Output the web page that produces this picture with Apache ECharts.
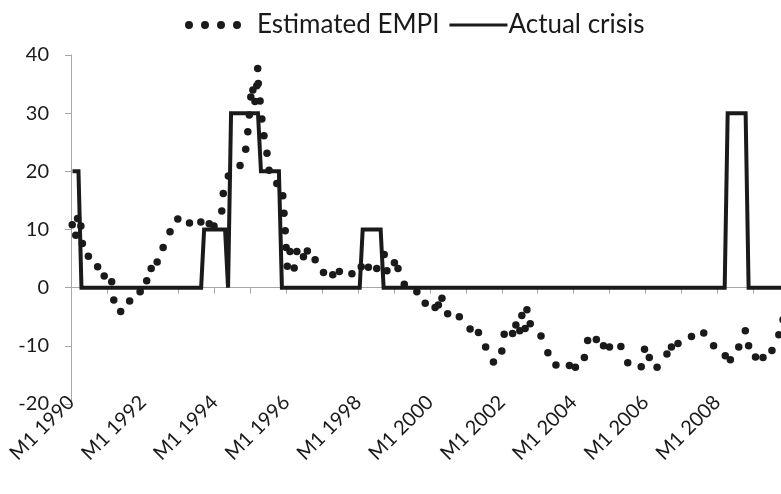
<!DOCTYPE html>
<html>
<head>
<meta charset="utf-8">
<script src="https://cdn.jsdelivr.net/npm/echarts@6/dist/echarts.min.js"></script>
<style>
  html, body { margin: 0; padding: 0; background: #ffffff; }
  #chart { width: 781px; height: 494px; }
</style>
</head>
<body>
<div id="chart"></div>
<script>
// Months are counted from the start of January 1990 (0 = M1 1990, 12 = M1 1991, ...).
const startYear = 1990;
const labelYears = [1990, 1992, 1994, 1996, 1998, 2000, 2002, 2004, 2006, 2008];

// Estimated exchange market pressure index
const empiMonth = [
  0.4, 1.6, 2.2, 3.3, 3.8, 5.8, 8.9, 11.1, 13.6, 14.3,
  16.6, 19.6, 23.1, 25.3, 26.8, 28.8, 30.8, 33.1, 35.7, 39.6,
  43.4, 46.2, 47.8, 50.4, 50.9, 52.6, 56.5, 58.4, 59.1, 59.6,
  60.1, 60.8, 61.5, 62.1, 62.4, 62.6, 63.2, 63.8, 64.5, 65.5,
  66.2, 68.8, 70.8, 71.2, 71.6, 71.9, 72.3, 73.2, 74.6, 75.5,
  77.7, 79.0, 81.6, 84.4, 87.5, 89.7, 93.9, 97.0, 99.4, 102.2,
  104.7, 105.6, 108.1, 109.3, 111.4, 115.6, 118.4, 121.7, 122.8, 124.0,
  125.9, 129.8, 133.4, 136.2, 138.6, 141.2, 144.0, 144.8, 147.6, 148.7,
  150.0, 150.7, 151.8, 152.4, 153.5, 157.1, 159.4, 162.1, 166.6, 168.6,
  171.6, 172.7, 175.6, 178.0, 180.0, 183.8, 186.1, 190.6, 191.7, 193.3,
  195.9, 199.2, 200.7, 202.9, 207.4, 211.5, 214.8, 218.7, 220.4, 223.2,
  225.4, 226.5, 228.8, 231.3, 234.3, 236.6, 238.0
];
const empiValue = [
  10.8, 9.0, 11.9, 10.6, 7.6, 5.4, 3.6, 2.0, 1.0, -2.1,
  -4.1, -2.3, -0.7, 1.2, 3.3, 4.4, 6.9, 9.6, 11.8, 11.1,
  11.3, 11.0, 10.6, 13.2, 16.2, 19.2, 21.0, 23.8, 26.8, 29.7,
  32.8, 34.0, 32.0, 34.7, 37.7, 35.1, 32.1, 29.0, 26.1, 23.1,
  20.2, 17.9, 15.8, 12.8, 9.8, 6.9, 3.7, 6.2, 3.4, 6.2,
  5.3, 6.3, 4.8, 2.6, 2.2, 2.8, 2.4, 3.6, 3.5, 3.3,
  5.7, 2.9, 4.3, 3.3, 0.6, -0.7, -2.7, -3.4, -3.0, -1.8,
  -4.5, -5.0, -7.1, -7.7, -10.2, -12.8, -10.9, -8.0, -7.9, -6.4,
  -7.4, -4.8, -7.0, -3.8, -6.2, -8.3, -11.2, -13.3, -13.4, -13.7,
  -12.0, -9.1, -8.9, -10.0, -10.2, -10.1, -12.9, -13.6, -10.6, -12.0,
  -13.7, -11.4, -10.2, -9.6, -8.4, -7.8, -10.0, -11.7, -12.4, -10.2,
  -7.4, -10.0, -11.9, -12.0, -10.8, -8.1, -5.5
];

// Actual crisis episodes (level changes month by month)
const crisisMonth = [
  0.5, 2.5, 3.5, 43.5, 44.5, 51.5, 52.5, 53.5, 62.5, 63.5,
  69.5, 70.5, 96.5, 97.5, 103.5, 104.5, 218.5, 219.5, 225.5, 226.5,
  239.5
];
const crisisLevel = [
  20, 20, 0, 0, 10, 10, 0, 30, 30, 20,
  20, 0, 0, 10, 10, 0, 0, 30, 30, 0,
  0
];

const empiData = empiMonth.map((m, i) => [m, empiValue[i]]);
const crisisData = crisisMonth.map((m, i) => [m, crisisLevel[i]]);

const FONT = 'Lato';
const INK = '#1a1a1a';
const AXIS = '#a6a6a6';

// four dots for the legend swatch of the estimated index
const dotIcon = 'path://' + [0, 16, 32, 48].map(x =>
  `M${x},4a4,4 0 1,0 8,0a4,4 0 1,0 -8,0z`).join('');
// plain bar for the crisis line swatch
const lineIcon = 'path://M0,0h60v3h-60z';

const chart = echarts.init(document.getElementById('chart'), null, { renderer: 'canvas' });
chart.setOption({
  animation: false,
  backgroundColor: '#ffffff',
  textStyle: { fontFamily: FONT, color: INK },
  legend: {
    top: 7,
    left: 180,
    itemWidth: 58,
    itemHeight: 8,
    itemGap: 10,
    textStyle: { fontFamily: FONT, fontSize: 26, color: INK },
    data: [
      { name: 'Estimated EMPI', icon: dotIcon, textStyle: { padding: [0, 0, 0, 10] } },
      { name: 'Actual crisis', icon: lineIcon, textStyle: { padding: [0, 0, 0, -4] } }
    ]
  },
  grid: { left: 71, top: 55, height: 349, width: 718, outerBoundsMode: 'none', containLabel: false },
  xAxis: [
    {
      type: 'value',
      min: 0,
      max: 240,
      interval: 12,
      axisLine: { onZero: true, lineStyle: { color: AXIS, width: 1 } },
      axisTick: { show: true, length: 6, lineStyle: { color: AXIS } },
      axisLabel: { show: false },
      splitLine: { show: false }
    },
    {
      type: 'value',
      position: 'bottom',
      min: 0,
      max: 240,
      interval: 12,
      axisLine: { show: false, onZero: false },
      axisTick: { show: false },
      splitLine: { show: false },
      axisLabel: {
        show: true,
        rotate: 45,
        margin: -5,
        fontFamily: FONT,
        fontSize: 20,
        color: INK,
        showMaxLabel: false,
        formatter: v => {
          const year = startYear + v / 12;
          return labelYears.indexOf(year) >= 0 ? 'M1 ' + year : '';
        }
      }
    }
  ],
  yAxis: {
    type: 'value',
    min: -20,
    max: 40,
    interval: 10,
    axisLine: { show: true, lineStyle: { color: AXIS, width: 1 } },
    axisTick: { show: true, length: 6, lineStyle: { color: AXIS } },
    splitLine: { show: false },
    axisLabel: { margin: 22, fontFamily: FONT, fontSize: 20, color: INK }
  },
  series: [
    {
      name: 'Estimated EMPI',
      type: 'scatter',
      xAxisIndex: 0,
      data: empiData,
      symbol: 'circle',
      symbolSize: 7.5,
      itemStyle: { color: INK, opacity: 1 },
      z: 5
    },
    {
      name: 'Actual crisis',
      type: 'line',
      xAxisIndex: 0,
      data: crisisData,
      symbol: 'none',
      lineStyle: { color: INK, width: 4, join: 'miter' },
      itemStyle: { color: INK },
      z: 3
    }
  ]
});
</script>
</body>
</html>
